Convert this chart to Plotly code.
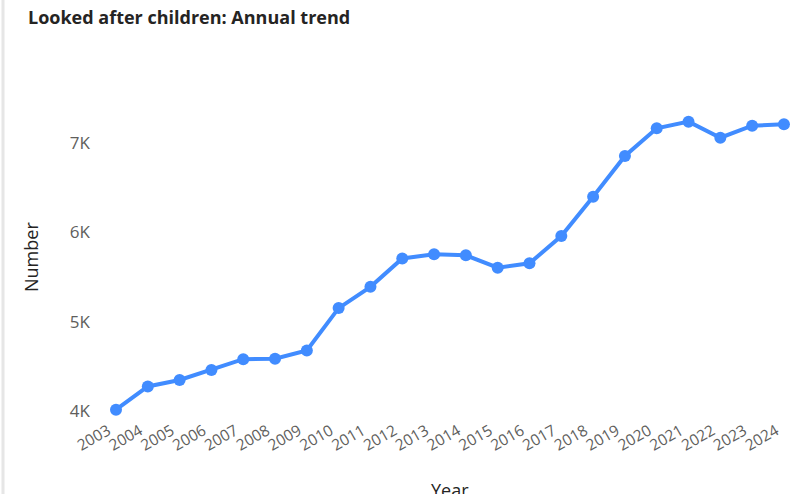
import plotly.graph_objects as go

years = list(range(2003, 2025))
values = [4015, 4275, 4348, 4460, 4580, 4585, 4678, 5152, 5390, 5708, 5754, 5743,
          5604, 5653, 5959, 6399, 6855, 7165, 7239, 7059, 7194, 7209]
y_tick_vals = [4000, 5000, 6000, 7000]
y_tick_text = ["4K", "5K", "6K", "7K"]

W, H = 795, 494
L, R, T, B = 100, 5, 50, 76
pw = W - L - R
ph = H - T - B

FONT = "Open Sans, Noto Sans, sans-serif"

fig = go.Figure()
fig.add_trace(go.Scatter(
    x=years, y=values, mode="lines+markers",
    line=dict(color="#418CFF", width=4),
    marker=dict(color="#418CFF", size=12),
    cliponaxis=False,
    hoverinfo="x+y",
))

fig.update_layout(
    width=W, height=H,
    margin=dict(l=L, r=R, t=T, b=B),
    paper_bgcolor="white", plot_bgcolor="white",
    showlegend=False,
    font=dict(family=FONT, color="#605E5C", size=14),
    title=dict(text="<b>Looked after children: Annual trend</b>",
               x=28 / W, xanchor="left", y=1 - 18 / H, yanchor="middle",
               font=dict(size=18, color="#252423", family=FONT)),
    xaxis=dict(
        range=[2002.497, 2024.19], tickmode="array", tickvals=years,
        ticktext=[str(y) for y in years], tickangle=-30,
        showgrid=False, zeroline=False, showline=False, ticks="",
        tickfont=dict(size=15.5, color="#605E5C"),
        ticklabelshift=-8,
    ),
    yaxis=dict(
        range=[3922, 8041], tickmode="array", tickvals=y_tick_vals, ticktext=y_tick_text,
        showgrid=False, zeroline=False, showline=False, ticks="",
        tickfont=dict(size=17, color="#605E5C"),
        ticklabelstandoff=9,
    ),
    annotations=[
        dict(text="Number", xref="paper", yref="paper",
             x=(31 - L) / pw, y=1 - (257 - T) / ph, textangle=-90,
             showarrow=False, xanchor="center", yanchor="middle",
             font=dict(size=18, color="#252423")),
        dict(text="Year", xref="paper", yref="paper",
             x=(450 - L) / pw, y=1 - (490 - T) / ph,
             showarrow=False, xanchor="center", yanchor="middle",
             font=dict(size=18, color="#252423")),
    ],
    shapes=[
        dict(type="line", xref="paper", yref="paper",
             x0=(3 - L) / pw, x1=(3 - L) / pw, y0=1 + T / ph, y1=-B / ph,
             line=dict(color="#E6E6E6", width=3)),
    ],
)

fig.write_html("out.html", config={"displayModeBar": False},
               post_script="document.body.style.margin='0';")
